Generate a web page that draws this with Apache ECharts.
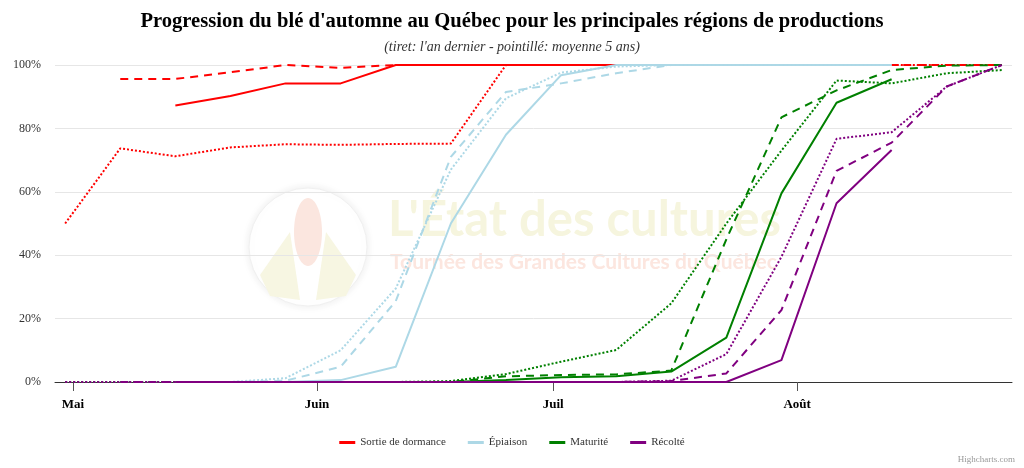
<!DOCTYPE html>
<html>
<head>
<meta charset="utf-8">
<script src="https://cdn.jsdelivr.net/npm/echarts@6/dist/echarts.min.js"></script>
<style>
  html, body { margin: 0; padding: 0; background: #fff; }
  #container { width: 1024px; height: 468px; }
</style>
</head>
<body>
<div id="container"></div>
<script>
// semaines de relevé
var dates = ['2024-04-30', '2024-05-07', '2024-05-14', '2024-05-21', '2024-05-28', '2024-06-04',
  '2024-06-11', '2024-06-18', '2024-06-25', '2024-07-02', '2024-07-09', '2024-07-16',
  '2024-07-23', '2024-07-30', '2024-08-06', '2024-08-13', '2024-08-20', '2024-08-27'];

var monthTicks = ['2024-05-01', '2024-06-01', '2024-07-01', '2024-08-01'];
var monthNames = ['Janv', 'Févr', 'Mars', 'Avr', 'Mai', 'Juin', 'Juil', 'Août', 'Sept', 'Oct', 'Nov', 'Déc'];

var categories = ['Sortie de dormance', 'Épiaison', 'Maturité', 'Récolté'];
var colors = ['#ff0000', '#add8e6', '#008000', '#800080'];

// Sortie de dormance
var dormanceCourant = [null, null, 87.2, 90.2, 94.2, 94.2, 100, 100, 100, 100, 100, 100, 100, 100, 100, 100, null, null];
var dormanceAnDernier = [null, 95.6, 95.6, 97.7, 100, 99.1, 100, 100, 100, 100, 100, 100, 100, 100, 100, 100, 100, 100];
var dormanceMoyenne = [50, 73.7, 71.2, 74, 75, 74.8, 75.1, 75.2, 100, 100, 100, 100, 100, 100, 100, 100, 100, 100];

// Épiaison
var epiaisonCourant = [null, null, 0, 0, 0, 0.6, 4.8, 50, 78, 96.8, 100, 100, 100, 100, 100, 100, null, null];
var epiaisonAnDernier = [null, 0, 0, 0, 0.4, 4.8, 25.5, 71, 91.5, 94.2, 97.4, 100, 100, 100, 100, 100, null, null];
var epiaisonMoyenne = [0, 0, 0, 0, 1.2, 10, 29.5, 67, 89.5, 97.6, 99.5, 100, 100, 100, 100, 100, null, null];

// Maturité
var maturiteCourant = [null, null, 0, 0, 0, 0, 0, 0, 0.6, 1.5, 1.8, 3.3, 14, 59.5, 88.1, 95.5, null, null];
var maturiteAnDernier = [null, 0, 0, 0, 0, 0, 0, 0, 1.8, 2.2, 2.4, 3.6, 45, 83.5, 92, 98.4, 99.8, 100];
var maturiteMoyenne = [0, 0, 0, 0, 0, 0, 0, 0.3, 2.5, 6.4, 10.1, 24.8, 50, 73, 95.1, 94.2, 97.4, 98.4];

// Récolté
var recolteCourant = [null, null, 0, 0, 0, 0, 0, 0, 0, 0, 0, 0, 0, 6.9, 56.4, 73.2, null, null];
var recolteAnDernier = [null, 0, 0, 0, 0, 0, 0, 0, 0, 0, 0, 0.3, 2.7, 22.7, 66.6, 75.5, 93.2, 100];
var recolteMoyenne = [0, 0, 0, 0, 0, 0, 0, 0, 0, 0, 0, 0.4, 8.8, 39.5, 76.7, 78.8, 93.2, 100];

var groups = [
  [dormanceCourant, dormanceAnDernier, dormanceMoyenne],
  [epiaisonCourant, epiaisonAnDernier, epiaisonMoyenne],
  [maturiteCourant, maturiteAnDernier, maturiteMoyenne],
  [recolteCourant, recolteAnDernier, recolteMoyenne]
];
var dashStyles = ['solid', [8, 6], [2, 2]];

function toTime(s) {
  var p = s.split('-');
  return new Date(+p[0], +p[1] - 1, +p[2]).getTime();
}

var series = [];
groups.forEach(function (g, gi) {
  g.forEach(function (values, si) {
    series.push({
      name: categories[gi],
      type: 'line',
      showSymbol: false,
      symbol: 'none',
      color: colors[gi],
      lineStyle: { width: 2, type: dashStyles[si], color: colors[gi] },
      emphasis: { disabled: true },
      data: dates.map(function (d, i) { return [toTime(d), values[i]]; })
    });
  });
});

var chartDom = document.getElementById('container');
var myChart = echarts.init(chartDom, null, { renderer: 'canvas' });
var serif = '"Liberation Serif", "Times New Roman", serif';
var tickValues = monthTicks.map(toTime);

var option = {
  animation: false,
  backgroundColor: '#fff',
  textStyle: { fontFamily: serif },
  title: [
    {
      text: "Progression du blé d'automne au Québec pour les principales régions de productions",
      left: 'center',
      top: 6,
      textStyle: { fontFamily: serif, fontSize: 20.6, fontWeight: 'bold', color: '#000' }
    },
    {
      text: "(tiret: l'an dernier - pointillé: moyenne 5 ans)",
      left: 'center',
      top: 35,
      textStyle: { fontFamily: serif, fontSize: 14, fontStyle: 'italic', fontWeight: 'normal', color: '#333' }
    }
  ],
  graphic: [
    {
      type: 'circle',
      z: -1,
      shape: { cx: 308, cy: 247, r: 59 },
      style: { fill: '#fff', stroke: '#f0f0f0', lineWidth: 1, shadowBlur: 8, shadowColor: 'rgba(0,0,0,0.08)' }
    },
    {
      type: 'polygon',
      z: -1,
      shape: { points: [[260, 275], [290, 232], [300, 300], [270, 296]] },
      style: { fill: '#f7f6e2' }
    },
    {
      type: 'polygon',
      z: -1,
      shape: { points: [[356, 275], [326, 232], [316, 300], [346, 296]] },
      style: { fill: '#f7f6e2' }
    },
    {
      type: 'ellipse',
      z: -1,
      shape: { cx: 308, cy: 232, rx: 14, ry: 34 },
      style: { fill: '#fbe6df' }
    },
    {
      type: 'text',
      z: -1,
      left: 388,
      top: 196,
      style: { text: "L'État des cultures", fontFamily: 'Lato', fontWeight: 'bold', fontSize: 49, fill: '#f6f5de' }
    },
    {
      type: 'text',
      z: -1,
      left: 390,
      top: 252,
      style: { text: 'Tournée des Grandes Cultures du Québec', fontFamily: 'Lato', fontWeight: 'bold', fontSize: 21, fill: '#fce6df' }
    },
    {
      type: 'text',
      right: 9,
      bottom: 4,
      style: { text: 'Highcharts.com', fontFamily: serif, fontSize: 9, fill: '#999' }
    }
  ],
  legend: {
    data: categories,
    bottom: 15,
    left: 'center',
    icon: 'rect',
    itemWidth: 16,
    itemHeight: 3,
    itemGap: 22,
    textStyle: { fontFamily: serif, fontSize: 11, color: '#333' }
  },
  grid: { left: 55, right: 12, top: 65, bottom: 86 },
  xAxis: {
    type: 'value',
    min: toTime('2024-04-28') + 17 * 3600 * 1000,
    max: toTime('2024-08-28') + 7 * 3600 * 1000,
    axisLine: { lineStyle: { color: '#333', width: 1 } },
    axisTick: {
      show: true,
      length: 9,
      lineStyle: { color: '#555' },
      customValues: tickValues
    },
    axisLabel: {
      customValues: tickValues,
      margin: 16,
      fontFamily: serif,
      fontSize: 13,
      fontWeight: 'bold',
      color: '#000',
      formatter: function (v) { return monthNames[new Date(v).getMonth()]; }
    },
    splitLine: { show: false }
  },
  yAxis: {
    type: 'value',
    min: 0,
    max: 100,
    interval: 20,
    axisLabel: { formatter: '{value}%', fontFamily: serif, fontSize: 12, color: '#333', margin: 14 },
    axisLine: { show: false },
    axisTick: { show: false },
    splitLine: { lineStyle: { color: '#e6e6e6', width: 1 } }
  },
  series: series
};

option && myChart.setOption(option);
</script>
</body>
</html>
